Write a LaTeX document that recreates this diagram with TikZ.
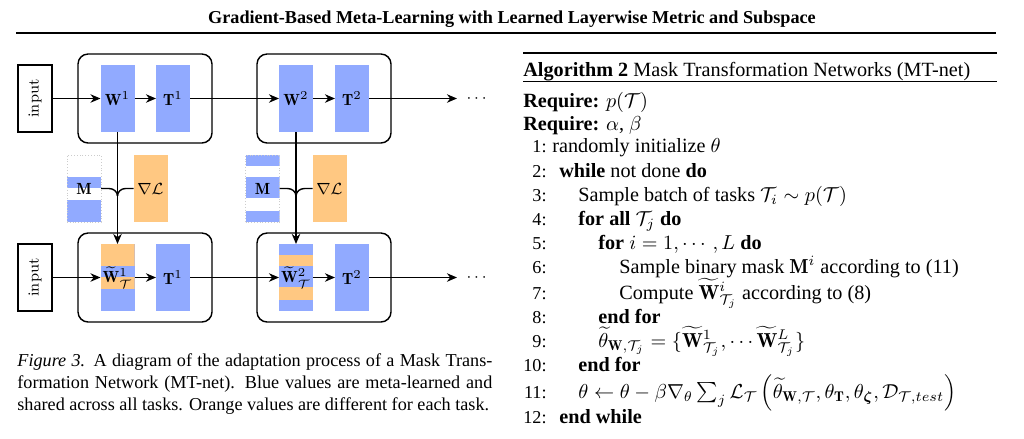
\documentclass[tikz,border=0pt]{standalone}
\usepackage{amsmath,amssymb,bm}
\usepackage{fontspec}
\newfontfamily\tms{Liberation Serif}
\usetikzlibrary{arrows.meta}
\newdimen\px \px=0.495pt
\definecolor{bluec}{RGB}{145,170,255}
\definecolor{orc}{RGB}{255,200,130}
\newcommand\diag{\fontsize{8}{9.6}\selectfont}
\newcommand\inpfont{\fontsize{7.6}{9}\selectfont}
\newcommand\stripe[3]{\fill[#1] ([yshift=-#2\px]path picture bounding box.north west) rectangle ([yshift=-#3\px]path picture bounding box.north east);}
\begin{document}
\begin{tikzpicture}[x=0.495pt,y=-0.495pt,
  lw/.style={line width=0.7pt},
  arr/.style={line width=0.7pt,-{Stealth[length=5pt,width=4.2pt]}},
  module/.style={draw,line width=0.7pt,rounded corners=5pt,minimum width=134\px,minimum height=89\px,inner sep=0pt},
  cell/.style={minimum width=34\px,minimum height=67\px,inner sep=0pt,outer sep=0pt,font=\diag},
  bluebox/.style={cell,fill=bluec},
  orbox/.style={cell,fill=orc},
  inbox/.style={draw,line width=0.6pt,rotate=90,minimum width=67\px,minimum height=34\px,inner sep=0pt,font=\inpfont},
  mask/.style={cell,draw=gray!40,densely dotted,line width=0.4pt},
  alg/.style={anchor=base west,inner sep=0pt,font=\tms\fontsize{10}{12}\selectfont},
  lno/.style={anchor=base east,inner sep=0pt,font=\tms\fontsize{9}{11}\selectfont},
  captxt/.style={anchor=base west,inner sep=0pt,font=\tms\fontsize{9}{11}\selectfont}]
\useasboundingbox (0,0) rectangle (1024,438);

% header
\node[anchor=base,inner sep=0pt,font=\tms\bfseries\fontsize{9}{11}\selectfont] (title) at (512,23) {Gradient-Based Meta-Learning with Learned Layerwise Metric and Subspace};
\draw[line width=1pt] (16,33) -- (996,33);

% modules
\node[module] (m1) at (145,98.5) {};
\node[module] (m2) at (324,98.5) {};
\node[module] (m3) at (145,277.5) {};
\node[module] (m4) at (324,277.5) {};

% top row
\node[inbox] (in1) at (35,98.5) {input};
\node[bluebox] (W1) at (117.5,98.5) {$\mathbf{W}^1$};
\node[bluebox] (T1) at (173,98.5) {$\mathbf{T}^1$};
\node[bluebox] (W2) at (296,98.5) {$\mathbf{W}^2$};
\node[bluebox] (T2) at (352,98.5) {$\mathbf{T}^2$};
\coordinate (e1) at (457,98.5);
\node[font=\diag] (d1) at (478,98.5) {$\cdots$};

% middle row
\node[mask,path picture={\stripe{bluec}{22}{33}\stripe{bluec}{45}{67}}] (M1) at (84,188.5) {$\mathbf{M}$};
\node[orbox] (dL1) at (150.5,188.5) {$\nabla\mathcal{L}$};
\node[mask,path picture={\stripe{bluec}{0}{11}\stripe{bluec}{22}{43}\stripe{bluec}{56}{67}}] (M2) at (262.5,188.5) {$\mathbf{M}$};
\node[orbox] (dL2) at (329.5,188.5) {$\nabla\mathcal{L}$};
\coordinate (j1) at (117.5,196);
\coordinate (j2) at (296,196);

% bottom row
\node[inbox] (in2) at (35,277.5) {input};
\node[bluebox,path picture={\stripe{orc}{0}{22}\stripe{orc}{33}{45}}] (Wt1) at (117.5,277.5) {$\widetilde{\mathbf{W}}^1_{\mathcal{T}}$};
\node[bluebox] (T3) at (173,277.5) {$\mathbf{T}^1$};
\node[bluebox,path picture={\stripe{orc}{11}{22}\stripe{orc}{43}{56}}] (Wt2) at (296,277.5) {$\widetilde{\mathbf{W}}^2_{\mathcal{T}}$};
\node[bluebox] (T4) at (352,277.5) {$\mathbf{T}^2$};
\coordinate (e2) at (457,277.5);
\node[font=\diag] (d2) at (478,277.5) {$\cdots$};

% connectors top
\draw[arr] (in1.south) -- (W1.west);
\draw[arr] (W1.east) -- (T1.west);
\draw[arr] (T1.east) -- (W2.west);
\draw[arr] (W2.east) -- (T2.west);
\draw[arr] (T2.east) -- (e1);
% connectors bottom
\draw[arr] (in2.south) -- (Wt1.west);
\draw[arr] (Wt1.east) -- (T3.west);
\draw[arr] (T3.east) -- (Wt2.west);
\draw[arr] (Wt2.east) -- (T4.west);
\draw[arr] (T4.east) -- (e2);
% vertical
\draw[arr] (W1.south) -- (Wt1.north);
\draw[arr] (W2.south) -- (Wt2.north);
\draw[lw] (M1.east) -- ++(8,0) to[out=0,in=90] (j1);
\draw[lw] (dL1.west) -- ++(-8,0) to[out=180,in=90] (j1);
\draw[lw] (M2.east) -- ++(8,0) to[out=0,in=90] (j2);
\draw[lw] (dL2.west) -- ++(-8,0) to[out=180,in=90] (j2);

% caption
\node[captxt] (c1) at (17,366) {\makebox[235.1pt][s]{\textit{Figure 3.} A diagram of the adaptation process of a Mask Trans-}};
\node[captxt] (c2) at (17,388) {\makebox[235.1pt][s]{formation Network (MT-net). Blue values are meta-learned and}};
\node[captxt] (c3) at (17,410) {shared across all tasks. Orange values are different for each task.};

% algorithm
\draw[line width=0.8pt] (523,53) -- (997,53);
\draw[line width=0.4pt] (523,81) -- (997,81);
\node[alg] (ah) at (523,76) {\textbf{Algorithm 2} Mask Transformation Networks (MT-net)};
\node[alg] (r1) at (523,107) {\textbf{Require:} $p(\mathcal{T})$};
\node[alg] (r2) at (523,130) {\textbf{Require:} $\alpha$, $\beta$};
\node[lno] (n1) at (547,152) {1:};
\node[alg] (l1) at (552,152) {randomly initialize $\theta$};
\node[lno] (n2) at (547,177) {2:};
\node[alg] (l2) at (559,177) {\textbf{while} not done \textbf{do}};
\node[lno] (n3) at (547,201) {3:};
\node[alg] (l3) at (578,201) {Sample batch of tasks $\mathcal{T}_i \sim p(\mathcal{T})$};
\node[lno] (n4) at (547,225) {4:};
\node[alg] (l4) at (578,225) {\textbf{for all} $\mathcal{T}_j$ \textbf{do}};
\node[lno] (n5) at (547,249) {5:};
\node[alg] (l5) at (598,249) {\textbf{for} $i=1,\cdots,L$ \textbf{do}};
\node[lno] (n6) at (547,273) {6:};
\node[alg] (l6) at (619,273) {Sample binary mask $\mathbf{M}^i$ according to (11)};
\node[lno] (n7) at (547,299) {7:};
\node[alg] (l7) at (619,299) {Compute $\widetilde{\mathbf{W}}^i_{\mathcal{T}_j}$ according to (8)};
\node[lno] (n8) at (547,323) {8:};
\node[alg] (l8) at (598,323) {\textbf{end for}};
\node[lno] (n9) at (547,347) {9:};
\node[alg] (l9) at (598,347) {$\widetilde{\theta}_{\mathbf{W},\mathcal{T}_j} = \{\widetilde{\mathbf{W}}^1_{\mathcal{T}_j}, \cdots \widetilde{\mathbf{W}}^L_{\mathcal{T}_j}\}$};
\node[lno] (n10) at (547,371) {10:};
\node[alg] (l10) at (578,371) {\textbf{end for}};
\node[lno] (n11) at (547,398) {11:};
\node[alg] (l11) at (578,398) {$\theta \leftarrow \theta - \beta\nabla_\theta \sum_j \mathcal{L}_{\mathcal{T}}\left(\widetilde{\theta}_{\mathbf{W},\mathcal{T}}, \theta_{\mathbf{T}}, \theta_{\bm{\zeta}}, \mathcal{D}_{\mathcal{T},test}\right)$};
\node[lno] (n12) at (547,423) {12:};
\node[alg] (l12) at (559,423) {\textbf{end while}};
\end{tikzpicture}
\end{document}
